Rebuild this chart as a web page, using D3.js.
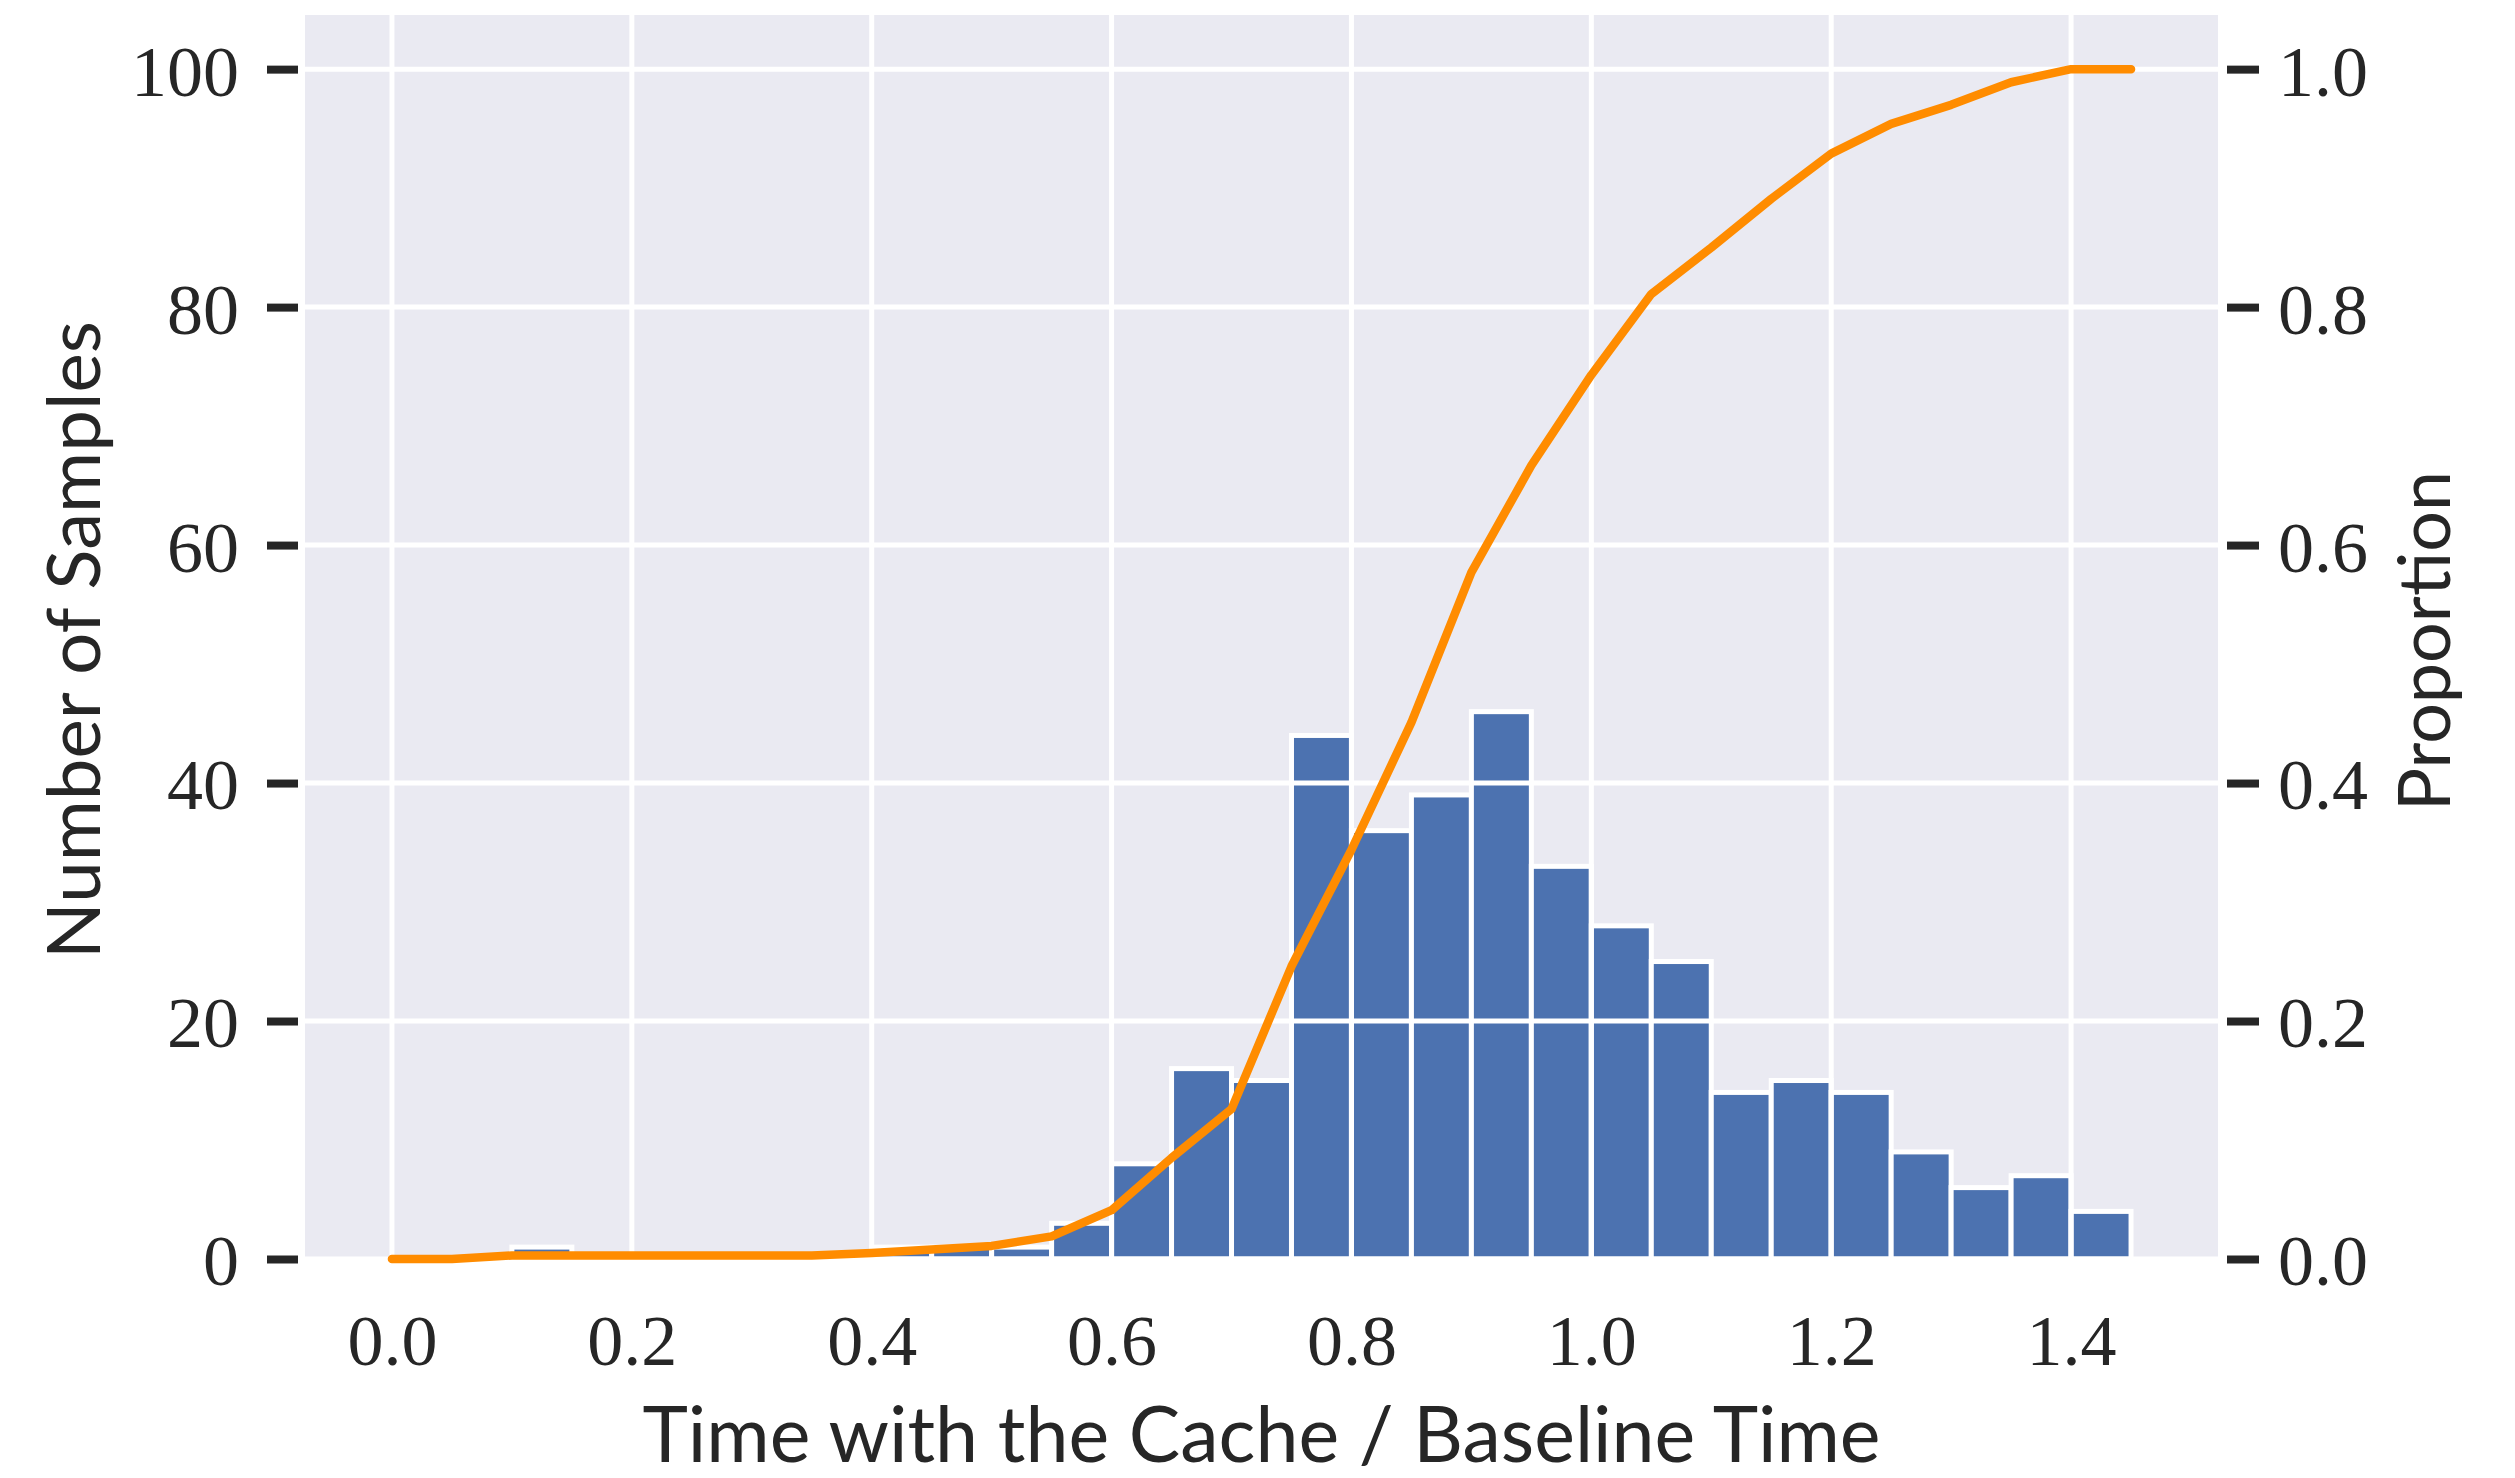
<!DOCTYPE html>
<html>
<head>
<meta charset="utf-8">
<script src="https://cdn.jsdelivr.net/npm/d3@7"></script>
<style>
  body { margin: 0; background: #fff; }
</style>
</head>
<body>
<div id="graph"></div>
<script>
// Histogram bins (left edge of each 0.05 wide bin) and sample counts
const binStarts = [0.00, 0.05, 0.10, 0.15, 0.20, 0.25, 0.30, 0.35, 0.40, 0.45,
  0.50, 0.55, 0.60, 0.65, 0.70, 0.75, 0.80, 0.85, 0.90, 0.95,
  1.00, 1.05, 1.10, 1.15, 1.20, 1.25, 1.30, 1.35, 1.40];
const counts = [0, 0, 1, 0, 0, 0, 0, 0, 1, 1,
  1, 3, 8, 16, 15, 44, 36, 39, 46, 33,
  28, 25, 14, 15, 14, 9, 6, 7, 4];
const binWidth = 0.05;

// Cumulative proportion line
const cdfX = [0.00, 0.05, 0.10, 0.15, 0.20, 0.25, 0.30, 0.35, 0.40, 0.45,
  0.50, 0.55, 0.60, 0.65, 0.70, 0.75, 0.80, 0.85, 0.90, 0.95,
  1.00, 1.05, 1.10, 1.15, 1.20, 1.25, 1.30, 1.35, 1.40, 1.45];
const cdfY = [0.000, 0.000, 0.003, 0.003, 0.003, 0.003, 0.003, 0.003, 0.005, 0.008,
  0.011, 0.019, 0.041, 0.085, 0.126, 0.246, 0.344, 0.451, 0.577, 0.667,
  0.743, 0.811, 0.850, 0.891, 0.929, 0.954, 0.970, 0.989, 1.000, 1.000];

// Tick labels
const xTicks = [0.0, 0.2, 0.4, 0.6, 0.8, 1.0, 1.2, 1.4];
const leftTicks = [0, 20, 40, 60, 80, 100];
const rightTicks = [0.0, 0.2, 0.4, 0.6, 0.8, 1.0];

drawChart();

function fitText(sel, target) {
  // shrink / grow the font so the text spans the wanted length
  const len = sel.node().getComputedTextLength();
  const size = parseFloat(sel.attr('font-size'));
  sel.attr('font-size', size * target / len);
}

function drawChart() {
  const width = 2515;
  const height = 1478;
  const left = 305, right = 2218, top = 15, bottom = 1259;

  const svg = d3.select('#graph')
      .append('svg')
      .attr('width', width)
      .attr('height', height);

  const x = d3.scaleLinear().domain([-0.0725, 1.5225]).range([left, right]);
  const y = d3.scaleLinear().domain([0, 104.55]).range([bottom, top]);
  const y2 = d3.scaleLinear().domain([0, 1.0455]).range([bottom, top]);

  // panel background
  svg.append('rect')
      .attr('x', left)
      .attr('y', top)
      .attr('width', right - left)
      .attr('height', bottom - top)
      .attr('fill', '#EAEAF2');

  // bars
  const bins = binStarts.map((b, i) => ({x0: b, n: counts[i]})).filter(d => d.n > 0);
  svg.append('g')
    .selectAll('rect')
    .data(bins)
    .enter()
    .append('rect')
      .attr('x', d => x(d.x0))
      .attr('y', d => y(d.n))
      .attr('width', d => x(d.x0 + binWidth) - x(d.x0))
      .attr('height', d => y(0) - y(d.n))
      .attr('fill', '#4C72B0')
      .attr('stroke', '#fff')
      .attr('stroke-width', 5);

  // grid (the twin axis draws it on top of the bars)
  const grid = svg.append('g').attr('stroke', '#fff').attr('stroke-width', 5);
  grid.selectAll('.gx')
    .data(xTicks)
    .enter()
    .append('line')
      .attr('x1', d => x(d)).attr('x2', d => x(d))
      .attr('y1', top).attr('y2', bottom);
  grid.selectAll('.gy')
    .data(leftTicks)
    .enter()
    .append('line')
      .attr('x1', left).attr('x2', right)
      .attr('y1', d => y(d)).attr('y2', d => y(d));

  // cumulative line
  const line = d3.line()
      .x(d => x(d[0]))
      .y(d => y2(d[1]));
  svg.append('path')
      .datum(cdfX.map((v, i) => [v, cdfY[i]]))
      .attr('d', line)
      .attr('fill', 'none')
      .attr('stroke', '#FF8C00')
      .attr('stroke-width', 8.5)
      .attr('stroke-linecap', 'round')
      .attr('stroke-linejoin', 'round');

  const tickFont = 'Liberation Serif, DejaVu Serif, serif';
  const labelFont = 'Lato, Open Sans, sans-serif';
  const ink = '#262626';

  // left axis
  const yAxis = d3.axisLeft(y)
      .tickValues(leftTicks)
      .tickSize(31)
      .tickPadding(28)
      .tickFormat(d3.format('d'));
  const gl = svg.append('g')
      .attr('transform', `translate(${left - 7},0)`)
      .call(yAxis);
  gl.select('.domain').remove();
  gl.selectAll('line').attr('stroke', ink).attr('stroke-width', 8);
  gl.selectAll('text')
      .attr('font-family', tickFont)
      .attr('font-size', 72)
      .attr('fill', ink)
      .attr('dy', '0.36em');

  // right axis
  const yAxis2 = d3.axisRight(y2)
      .tickValues(rightTicks)
      .tickSize(32)
      .tickPadding(19)
      .tickFormat(d3.format('.1f'));
  const gr = svg.append('g')
      .attr('transform', `translate(${right + 9},0)`)
      .call(yAxis2);
  gr.select('.domain').remove();
  gr.selectAll('line').attr('stroke', ink).attr('stroke-width', 8);
  gr.selectAll('text')
      .attr('font-family', tickFont)
      .attr('font-size', 72)
      .attr('fill', ink)
      .attr('dy', '0.36em');

  // bottom axis: labels only, no tick marks
  const xAxis = d3.axisBottom(x)
      .tickValues(xTicks)
      .tickSize(0)
      .tickPadding(0)
      .tickFormat(d3.format('.1f'));
  const gb = svg.append('g')
      .attr('transform', `translate(0,${bottom})`)
      .call(xAxis);
  gb.select('.domain').remove();
  gb.selectAll('text')
      .attr('font-family', tickFont)
      .attr('font-size', 72)
      .attr('fill', ink)
      .attr('dy', null)
      .attr('y', 106);

  // axis titles
  const xt = svg.append('text')
      .attr('x', (left + right) / 2)
      .attr('y', 1462)
      .attr('text-anchor', 'middle')
      .attr('font-family', labelFont)
      .attr('font-size', 80)
      .attr('fill', ink)
      .text('Time with the Cache / Baseline Time');
  fitText(xt, 1238);

  const yt = svg.append('text')
      .attr('transform', 'translate(100,640) rotate(-90)')
      .attr('text-anchor', 'middle')
      .attr('font-family', labelFont)
      .attr('font-size', 80)
      .attr('fill', ink)
      .text('Number of Samples');
  fitText(yt, 638);

  const y2t = svg.append('text')
      .attr('transform', 'translate(2450,641) rotate(-90)')
      .attr('text-anchor', 'middle')
      .attr('font-family', labelFont)
      .attr('font-size', 80)
      .attr('fill', ink)
      .text('Proportion');
  fitText(y2t, 340);
}
</script>
</body>
</html>
